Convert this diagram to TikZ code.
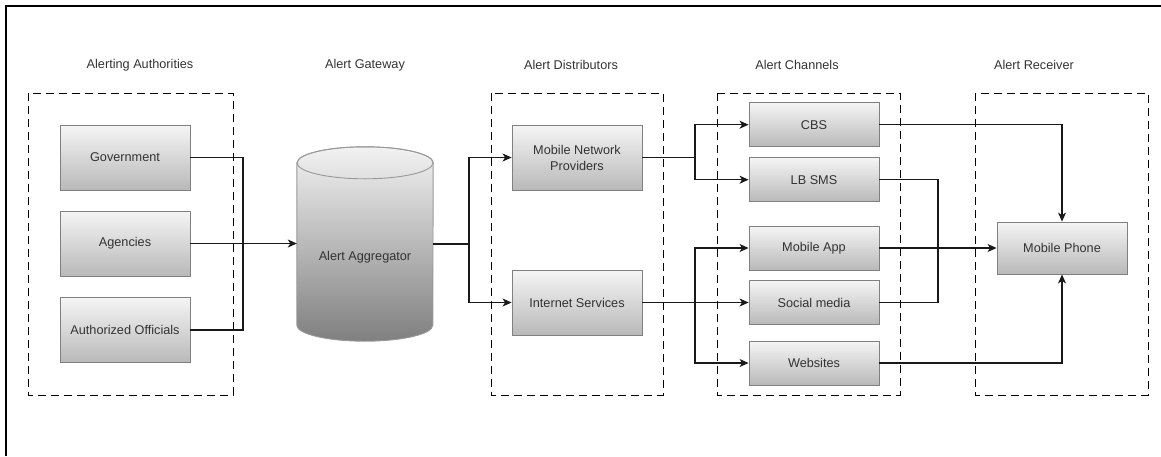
\documentclass[tikz,border=0pt]{standalone}
\usepackage{fontspec}
\setmainfont{Liberation Sans}
\usetikzlibrary{arrows.meta}

\definecolor{txtgray}{HTML}{333333}
\definecolor{boxline}{HTML}{808080}
\tikzset{
	box/.style={draw=boxline, line width=0.9pt, top color=gray!8, bottom color=gray!55, minimum width=130pt, inner sep=0pt, align=center, text=txtgray},
	authbox/.style={box, minimum height=65pt},
	chanbox/.style={box, minimum height=44pt},
	grp/.style={draw, line width=0.9pt, dash pattern=on 8pt off 5pt},
	head/.style={text=txtgray},
	conn/.style={draw=black!90, line width=1.1pt},
	arr/.style={conn, -{Stealth[length=9pt, width=8pt, inset=2.5pt]}}
}

\begin{document}
\begin{tikzpicture}[x=1pt, y=-1pt, font=\fontsize{12.7}{16}\selectfont]
		\useasboundingbox (0,0) rectangle (1161,456);
		\draw[line width=1.5pt] (6,456) -- (6,6) -- (1161,6);

		% headings and dashed groups
		\foreach \n/\x/\t in {hauth/140/Alerting Authorities, hgate/365/Alert Gateway, hdist/571/Alert Distributors, hchan/797/Alert Channels, hrecv/1034/Alert Receiver}{
				\node[head] (\n) at (\x, 65) {\t};
			}
		\foreach \n/\a/\b in {gauth/28/233, gdist/491/663, gchan/717/900, grecv/975/1148}{
				\draw[grp] (\a, 93) rectangle (\b, 395) coordinate (\n);
			}

		% alerting authorities
		\node[authbox] (gov) at (125, 157.5) {Government};
		\node[authbox] (age) at (125, 243.5) {Agencies};
		\node[authbox] (off) at (125, 330) {Authorized Officials};

		% alert aggregator
		\node[minimum width=136pt, minimum height=162pt, inner sep=0pt] (agg) at (365, 244) {};
		\shade[draw=gray!80, line width=0.9pt, top color=gray!10, bottom color=gray!100]
			(agg.north west) -- (agg.south west)
			arc[start angle=180, end angle=360, x radius=68pt, y radius=16pt]
			-- (agg.north east)
			arc[start angle=0, end angle=180, x radius=68pt, y radius=16pt] -- cycle;
		\draw[draw=gray!80, line width=0.9pt] (agg.north) ellipse [x radius=68pt, y radius=16pt];
		\node[text=txtgray] (aggtxt) at (365, 257) {Alert Aggregator};

		% alert distributors
		\node[authbox] (mnp) at (577, 157.5) {Mobile Network\\Providers};
		\node[authbox] (isv) at (577, 302.5) {Internet Services};

		% alert channels
		\foreach \n/\y/\t in {cbs/124.7/CBS, lbs/179.7/LB SMS, mapp/248/Mobile App, soc/302.5/Social media, web/363/Websites}{
				\node[chanbox] (\n) at (814, \y) {\t};
			}

		% alert receiver
		\node[box, minimum height=52pt] (phone) at (1062, 248) {Mobile Phone};

		% junctions
		\coordinate (jA) at (243, 243.5);
		\coordinate (jG) at (469, 244);
		\coordinate (jB) at (695, 157.5);
		\coordinate (jI) at (695, 302.5);
		\coordinate (jC) at (938, 248);

		% connectors
		\draw[conn] (gov.east) -| (jA);
		\draw[conn] (off.east) -| (jA);
		\draw[arr] (age.east) -- (age.east -| agg.west);
		\draw[conn] (agg.east |- jG) -- (jG);
		\draw[arr] (jG) |- (mnp.west);
		\draw[arr] (jG) |- (isv.west);
		\draw[conn] (mnp.east) -- (jB);
		\draw[arr] (jB) |- (cbs.west);
		\draw[arr] (jB) |- (lbs.west);
		\draw[arr] (isv.east) -- (soc.west);
		\draw[arr] (jI) |- (mapp.west);
		\draw[arr] (jI) |- (web.west);
		\draw[arr] (cbs.east) -| (phone.north);
		\draw[arr] (web.east) -| (phone.south);
		\draw[arr] (mapp.east) -- (phone.west);
		\draw[conn] (lbs.east) -| (jC);
		\draw[conn] (soc.east) -| (jC);
	\end{tikzpicture}
\end{document}
